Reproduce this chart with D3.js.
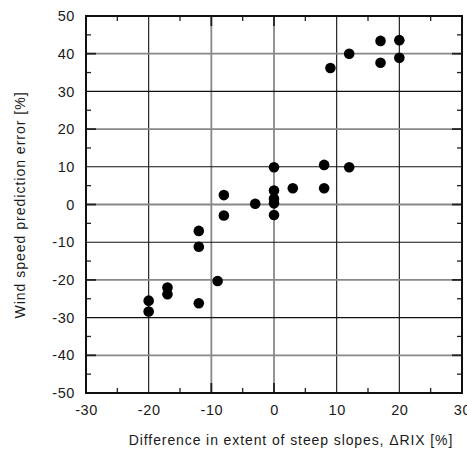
<!DOCTYPE html>
<html><head><meta charset="utf-8">
<script src="https://cdn.jsdelivr.net/npm/d3@7"></script>
<style>body{margin:0;background:#fff}svg{display:block}text{font-family:"Liberation Sans",Arial,sans-serif}</style>
</head><body><svg id="c" width="467" height="450"></svg>
<script>
const xTicks = [-30,-20,-10,0,10,20,30];
const yTicks = [-50,-40,-30,-20,-10,0,10,20,30,40,50];
const xMinor = [-25,-15,-5,5,15,25];
const yMinor = [-45,-35,-25,-15,-5,5,15,25,35,45];
const xVals = [17,20,12,17,20,9,0,8,12,0,3,8,0,0,0,-3,-8,-8,-12,-12,-9,-17,-17,-12,-20,-20];
const yVals = [43.4,43.6,40,37.6,38.9,36.2,9.9,10.5,9.9,3.7,4.3,4.3,1.5,0.3,-2.8,0.2,2.5,-2.9,-7,-11.2,-20.3,-22,-23.8,-26.2,-25.5,-28.4];
const grayX = [-10,0];
const grayY = [40,20,0,-20,-40];

const svg = d3.select("#c");
const L=86,R=462,T=16,B=393;
const x = d3.scaleLinear().domain([-30,30]).range([L,R]);
const y = d3.scaleLinear().domain([-50,50]).range([B,T]);

// grid
const g = svg.append("g");
xTicks.filter(v=>v>-30&&v<30).forEach(v=>{
  const gray = grayX.includes(v);
  g.append("line").attr("x1",x(v)).attr("x2",x(v)).attr("y1",T).attr("y2",B)
   .attr("stroke",gray?"#888":"#111").attr("stroke-width",gray?1.8:1.1);
});
yTicks.filter(v=>v>-50&&v<50).forEach(v=>{
  const gray = grayY.includes(v);
  g.append("line").attr("x1",L).attr("x2",R).attr("y1",y(v)).attr("y2",y(v))
   .attr("stroke",gray?"#888":"#111").attr("stroke-width",gray?1.8:1.1);
});

// minor ticks inside on all sides
const tk = svg.append("g").attr("stroke","#222").attr("stroke-width",1.3);
xMinor.forEach(v=>{
  tk.append("line").attr("x1",x(v)).attr("x2",x(v)).attr("y1",T).attr("y2",T+5);
  tk.append("line").attr("x1",x(v)).attr("x2",x(v)).attr("y1",B).attr("y2",B-5);
});
yMinor.forEach(v=>{
  tk.append("line").attr("x1",L).attr("x2",L+5).attr("y1",y(v)).attr("y2",y(v));
  tk.append("line").attr("x1",R).attr("x2",R-5).attr("y1",y(v)).attr("y2",y(v));
});
grayY.forEach(v=>{
  tk.append("line").attr("x1",L).attr("x2",L+10).attr("y1",y(v)).attr("y2",y(v)).attr("stroke-width",1.8);
  tk.append("line").attr("x1",R).attr("x2",R-10).attr("y1",y(v)).attr("y2",y(v)).attr("stroke-width",1.8);
});
grayX.forEach(v=>{
  tk.append("line").attr("x1",x(v)).attr("x2",x(v)).attr("y1",T).attr("y2",T+10).attr("stroke-width",1.8);
  tk.append("line").attr("x1",x(v)).attr("x2",x(v)).attr("y1",B).attr("y2",B-10).attr("stroke-width",1.8);
});

// frame
svg.append("rect").attr("x",L).attr("y",T).attr("width",R-L).attr("height",B-T)
  .attr("fill","none").attr("stroke","#111").attr("stroke-width",2);

// axes labels via d3 axes (no lines)
const fmt = d => String(d);
const ax = svg.append("g").attr("transform",`translate(0,${B})`)
  .call(d3.axisBottom(x).tickValues(xTicks).tickFormat(fmt).tickSize(0).tickPadding(12));
ax.select(".domain").remove();
ax.selectAll("text").attr("font-size",14.5).attr("fill","#1a1a1a").attr("font-family","Liberation Sans, Arial, sans-serif").attr("letter-spacing","0.6px");
const ay = svg.append("g").attr("transform",`translate(${L},0)`)
  .call(d3.axisLeft(y).tickValues(yTicks).tickFormat(fmt).tickSize(0).tickPadding(11));
ay.select(".domain").remove();
ay.selectAll("text").attr("font-size",14.5).attr("fill","#1a1a1a").attr("font-family","Liberation Sans, Arial, sans-serif").attr("letter-spacing","0.6px");

// points
svg.append("g").selectAll("circle").data(xVals).join("circle")
  .attr("cx",(d)=>x(d)).attr("cy",(d,i)=>y(yVals[i])).attr("r",5.3).attr("fill","#000");

// titles
svg.append("text").attr("x",291).attr("y",445).attr("text-anchor","middle")
  .attr("font-size",14).attr("fill","#1a1a1a").attr("letter-spacing","0.9px")
  .text("Difference in extent of steep slopes, \u0394RIX [%]");
svg.append("text").attr("transform","translate(25,205) rotate(-90)").attr("text-anchor","middle")
  .attr("font-size",14).attr("fill","#1a1a1a").attr("letter-spacing","1px")
  .text("Wind speed prediction error [%]");
</script></body></html>
